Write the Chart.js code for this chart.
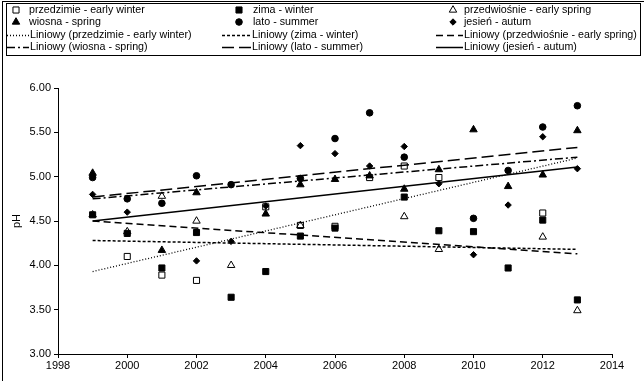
<!DOCTYPE html>
<html>
<head>
<meta charset="utf-8">
<script src="https://cdn.jsdelivr.net/npm/chart.js@4/dist/chart.umd.min.js"></script>
<style>
  html, body { margin: 0; padding: 0; background: #fff; }
  canvas { display: block; }
</style>
</head>
<body>
<canvas id="phChart" width="644" height="381"></canvas>
<script>
// pH by season, 1999-2013
const years = [1999, 2000, 2001, 2002, 2003, 2004, 2005, 2006, 2007, 2008, 2009, 2010, 2011, 2012, 2013];
const przedzimie   = [null, 4.10, 3.89, 3.83, null, 4.66, 4.45, 4.44, 4.99, 5.12, 4.99, null, null, 4.59, null];
const zima         = [4.57, 4.36, 3.97, 4.37, 3.64, 3.93, 4.33, 4.42, null, 4.77, 4.39, 4.38, 3.97, 4.51, 3.61];
const przedwiosnie = [4.57, 4.38, 4.78, 4.50, 4.00, null, 4.45, null, null, 4.55, 4.18, null, null, 4.32, 3.49];
const wiosna       = [5.04, null, 4.17, 4.82, null, 4.58, 4.91, 4.97, 5.01, 4.86, 5.08, 5.53, 4.89, 5.02, 5.52];
const lato         = [4.99, 4.75, 4.70, 5.01, 4.91, null, 4.98, 5.43, 5.72, 5.22, null, 4.53, 5.07, 5.56, 5.80];
const jesien       = [4.80, 4.60, null, 4.05, 4.27, 4.67, 5.35, 5.26, 5.12, 5.34, 4.92, 4.12, 4.68, 5.45, 5.09];

// linear trend lines, value at first and last year
const trendYears = [1999, 2013];
const trendPrzedzimie   = [3.93, 5.21];
const trendZima         = [4.28, 4.18];
const trendPrzedwiosnie = [4.50, 4.13];
const trendWiosna       = [4.75, 5.22];
const trendLato         = [4.77, 5.33];
const trendJesien       = [4.50, 5.11];

const seriesNames = ['przedzimie - early winter', 'zima - winter', 'przedwiośnie - early spring',
                     'wiosna - spring', 'lato - summer', 'jesień - autum'];
const yTicks = { min: 3, max: 6, step: 0.5 };
const xTicks = { min: 1998, max: 2014, step: 2 };

const FONT = '"Liberation Sans", Arial, sans-serif';

const pts = (vals) => years.map((x, i) => vals[i] == null ? null : { x, y: vals[i] }).filter(Boolean);
const trendPts = (vals) => trendYears.map((x, i) => ({ x, y: vals[i] }));

const markerStyles = [
  { pointStyle: 'rect',     pointRadius: 4.3, backgroundColor: '#fff' },
  { pointStyle: 'rect',     pointRadius: 4.3, backgroundColor: '#000' },
  { pointStyle: 'triangle', pointRadius: 4.3, backgroundColor: 'rgba(0,0,0,0)' },
  { pointStyle: 'triangle', pointRadius: 4.3, backgroundColor: '#000' },
  { pointStyle: 'circle',   pointRadius: 3.3, backgroundColor: '#000' },
  { pointStyle: 'rectRot',  pointRadius: 3.2, backgroundColor: '#000' },
];
const dashes = [[1, 2], [3, 2], [7, 4], [8, 3, 2, 3], [12, 5], []];

const seriesVals = [przedzimie, zima, przedwiosnie, wiosna, lato, jesien];
const trendVals = [trendPrzedzimie, trendZima, trendPrzedwiosnie, trendWiosna, trendLato, trendJesien];

const datasets = [];
seriesVals.forEach((vals, i) => {
  datasets.push(Object.assign({
    label: seriesNames[i],
    data: pts(vals),
    borderColor: '#000',
    borderWidth: 1,
    pointHoverRadius: 4,
    order: 6 - i,          // later series sit on top
  }, markerStyles[i]));
});
trendVals.forEach((vals, i) => {
  datasets.push({
    type: 'line',
    label: 'Liniowy (' + seriesNames[i] + ')',
    data: trendPts(vals),
    borderColor: '#000',
    borderWidth: i === 0 ? 1.3 : 1.5,
    borderDash: dashes[i],
    pointRadius: 0,
    fill: false,
    showLine: true,
    order: 0,
  });
});

// legend in three columns, four rows, inside a box
const legendRows = [10, 22, 35, 47];
const markX = [16, 239, 453];
const markTextX = [29, 253, 464];
const lineFrom = [7, 222, 436];
const lineTo = [29, 251, 463];

function drawMarker(ctx, ds, x, y) {
  const opts = { pointStyle: ds.pointStyle, radius: ds.pointRadius, rotation: 0, borderWidth: 1 };
  if (Chart.helpers && Chart.helpers.drawPoint) {
    Chart.helpers.drawPoint(ctx, opts, x, y);
  } else {
    ctx.beginPath(); ctx.arc(x, y, ds.pointRadius, 0, Math.PI * 2); ctx.fill(); ctx.stroke();
  }
}

const gridLegend = {
  id: 'gridLegend',
  afterDraw(chart) {
    const ctx = chart.ctx;
    ctx.save();
    ctx.strokeStyle = '#000';
    ctx.lineWidth = 1;
    ctx.strokeRect(2.5, 1.5, 700, 500);
    ctx.strokeRect(6.5, 3.5, 634, 52);
    ctx.font = '10.7px ' + FONT;
    ctx.textBaseline = 'middle';
    chart.data.datasets.forEach((ds, i) => {
      const trend = i >= 6;
      const k = trend ? i - 6 : i;
      const row = (trend ? 2 : 0) + Math.floor(k / 3);
      const col = k % 3;
      const y = legendRows[row];
      if (trend) {
        ctx.save();
        ctx.strokeStyle = ds.borderColor;
        ctx.lineWidth = ds.borderWidth;
        ctx.setLineDash(ds.borderDash);
        ctx.beginPath();
        ctx.moveTo(lineFrom[col], y + 0.5);
        ctx.lineTo(lineTo[col], y + 0.5);
        ctx.stroke();
        ctx.restore();
        ctx.fillStyle = '#000';
        ctx.fillText(ds.label, lineTo[col] + 1, y);
      } else {
        ctx.save();
        ctx.fillStyle = ds.backgroundColor;
        ctx.strokeStyle = ds.borderColor;
        ctx.lineWidth = 1;
        drawMarker(ctx, ds, markX[col], y);
        ctx.restore();
        ctx.fillStyle = '#000';
        ctx.fillText(ds.label, markTextX[col], y);
      }
    });
    ctx.restore();
  }
};

new Chart(document.getElementById('phChart'), {
  type: 'scatter',
  data: { datasets },
  options: {
    responsive: false,
    devicePixelRatio: 1,
    animation: false,
    layout: { padding: { top: 88, right: 32, left: 0, bottom: 0 } },
    plugins: { legend: { display: false }, tooltip: { enabled: false } },
    scales: {
      x: {
        type: 'linear',
        min: xTicks.min, max: xTicks.max,
        afterFit: (s) => { s.height = 27; },
        ticks: {
          stepSize: xTicks.step, color: '#000', padding: 1,
          font: { family: FONT, size: 11 },
          callback: (v) => String(v),
        },
        grid: { drawOnChartArea: false, drawTicks: true, tickLength: 4, color: '#000' },
        border: { display: true, color: '#000', width: 1 },
      },
      y: {
        min: yTicks.min, max: yTicks.max,
        afterFit: (s) => { s.width = 58; },
        ticks: {
          stepSize: yTicks.step, color: '#000', padding: 3,
          font: { family: FONT, size: 11 },
          callback: (v) => Number(v).toFixed(2),
        },
        title: { display: true, text: 'pH', color: '#000', padding: { top: 10, bottom: 0 },
                 font: { family: FONT, size: 11 } },
        grid: { drawOnChartArea: false, drawTicks: true, tickLength: 4, color: '#000' },
        border: { display: true, color: '#000', width: 1 },
      },
    },
  },
  plugins: [gridLegend],
});
</script>
</body>
</html>
